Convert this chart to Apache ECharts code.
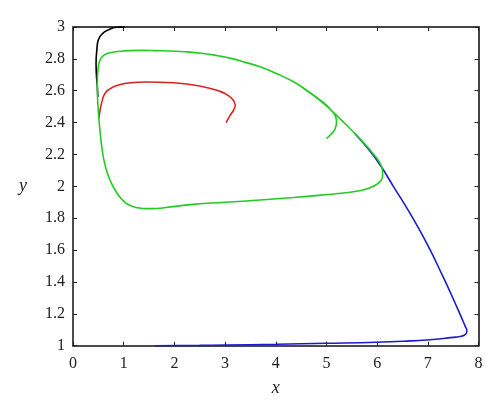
<!DOCTYPE html>
<html>
<head>
<meta charset="utf-8">
<script src="https://cdn.jsdelivr.net/npm/echarts@6/dist/echarts.min.js"></script>
<style>html,body{margin:0;padding:0;background:#fff}#c{width:500px;height:418px}</style>
</head>
<body>
<div id="c"></div>
<script>
var xTicks = [0, 1, 2, 3, 4, 5, 6, 7, 8];
var yTicks = [1, 1.2, 1.4, 1.6, 1.8, 2, 2.2, 2.4, 2.6, 2.8, 3];

var blackCurve = [[1.02,3.0],[0.86,2.998],[0.70,2.982],[0.57,2.955],[0.50,2.92],[0.47,2.855],[0.455,2.77],[0.46,2.71],[0.48,2.625],[0.49,2.56]];

var redCurve = [[3.02,2.40],[3.10,2.445],[3.17,2.48],[3.20,2.51],[3.15,2.545],[3.05,2.572],[2.90,2.596],[2.50,2.630],[1.98,2.650],[1.45,2.655],[1.06,2.647],[0.85,2.632],[0.72,2.610],[0.63,2.583],[0.57,2.53],[0.53,2.47],[0.515,2.43]];

var blueCurve = [[1.62,1.0],[2.5,1.002],[3.0,1.004],[4.02,1.009],[5.0,1.015],[5.99,1.022],[6.65,1.030],[6.98,1.036],[7.30,1.045],[7.50,1.052],[7.63,1.058],[7.72,1.066],[7.76,1.078],[7.77,1.095],[7.74,1.12],[7.70,1.15],[7.57,1.245],[7.30,1.433],[6.98,1.642],[6.65,1.83],[6.32,2.0],[6.06,2.134],[5.79,2.248],[5.55,2.335]];

var greenCurve = [[5.00,2.30],[5.10,2.33],[5.17,2.36],[5.20,2.405],[5.17,2.445],[5.10,2.475],[5.00,2.51],[4.84,2.55],[4.60,2.605],[4.35,2.656],[4.00,2.71],[3.69,2.75],[3.40,2.778],[3.16,2.80],[2.85,2.82],[2.57,2.834],[2.20,2.845],[1.91,2.849],[1.60,2.852],[1.39,2.853],[1.10,2.852],[0.93,2.848],[0.78,2.842],[0.66,2.832],[0.58,2.815],[0.53,2.79],[0.50,2.75],[0.485,2.70],[0.48,2.62],[0.49,2.52],[0.515,2.41],[0.545,2.31],[0.58,2.22],[0.62,2.15],[0.68,2.08],[0.75,2.025],[0.83,1.977],[0.92,1.935],[1.03,1.898],[1.15,1.877],[1.29,1.865],[1.45,1.860],[1.58,1.860],[1.80,1.866],[2.37,1.887],[3.00,1.900],[3.69,1.914],[4.35,1.930],[4.90,1.945],[5.33,1.958],[5.65,1.972],[5.85,1.99],[5.98,2.01],[6.07,2.035],[6.11,2.07],[6.10,2.11],[6.04,2.155],[5.92,2.205],[5.79,2.255],[5.55,2.335],[5.33,2.405],[5.10,2.475],[4.87,2.54],[4.60,2.603],[4.35,2.656],[4.00,2.71],[3.69,2.75],[3.40,2.778]];

var serif = 'Liberation Serif';
var chart = echarts.init(document.getElementById('c'), null, {renderer: 'canvas'});

function fmt(v) { return String(Math.round(v * 10) / 10); }

function axisBase(pos, ticks, showLabel, lineColor, lineWidth) {
  return {
    type: 'value',
    position: pos,
    min: ticks[0],
    max: ticks[ticks.length - 1],
    interval: Math.round((ticks[1] - ticks[0]) * 10) / 10,
    splitLine: {show: false},
    axisLine: {show: true, onZero: false, lineStyle: {color: lineColor, width: lineWidth}},
    axisTick: {show: true, inside: true, length: 4, lineStyle: {color: '#222', width: 1}},
    axisLabel: {show: showLabel, color: '#222', fontFamily: serif, fontSize: 16, formatter: fmt}
  };
}

var xBottom = axisBase('bottom', xTicks, true, '#111', 1.5);
xBottom.axisLabel.margin = 10;
xBottom.name = 'x';
xBottom.nameLocation = 'middle';
xBottom.nameGap = 34;
xBottom.nameTextStyle = {fontFamily: serif, fontStyle: 'italic', fontSize: 18, color: '#222'};
var xTop = axisBase('top', xTicks, false, '#444', 2);

var yLeft = axisBase('left', yTicks, true, '#111', 1.5);
yLeft.axisLabel.margin = 8;
yLeft.name = 'y';
yLeft.nameLocation = 'middle';
yLeft.nameRotate = 0;
yLeft.nameGap = 46;
yLeft.nameTextStyle = {fontFamily: serif, fontStyle: 'italic', fontSize: 18, color: '#222'};
var yRight = axisBase('right', yTicks, false, '#444', 2);

function line(data, color) {
  return {
    type: 'line', data: data, xAxisIndex: 0, yAxisIndex: 0,
    showSymbol: false, symbol: 'none', smooth: 0.5,
    lineStyle: {color: color, width: 1.6}, clip: false, animation: false
  };
}

chart.setOption({
  animation: false,
  grid: {left: 73, right: 21.5, top: 27, bottom: 72.3, containLabel: false, outerBoundsMode: 'none'},
  xAxis: [xBottom, xTop],
  yAxis: [yLeft, yRight],
  series: [
    line(blueCurve, '#1c1ccc'),
    line(blackCurve, '#000000'),
    line(redCurve, '#dd2222'),
    line(greenCurve, '#22cc22')
  ]
});
</script>
</body>
</html>
